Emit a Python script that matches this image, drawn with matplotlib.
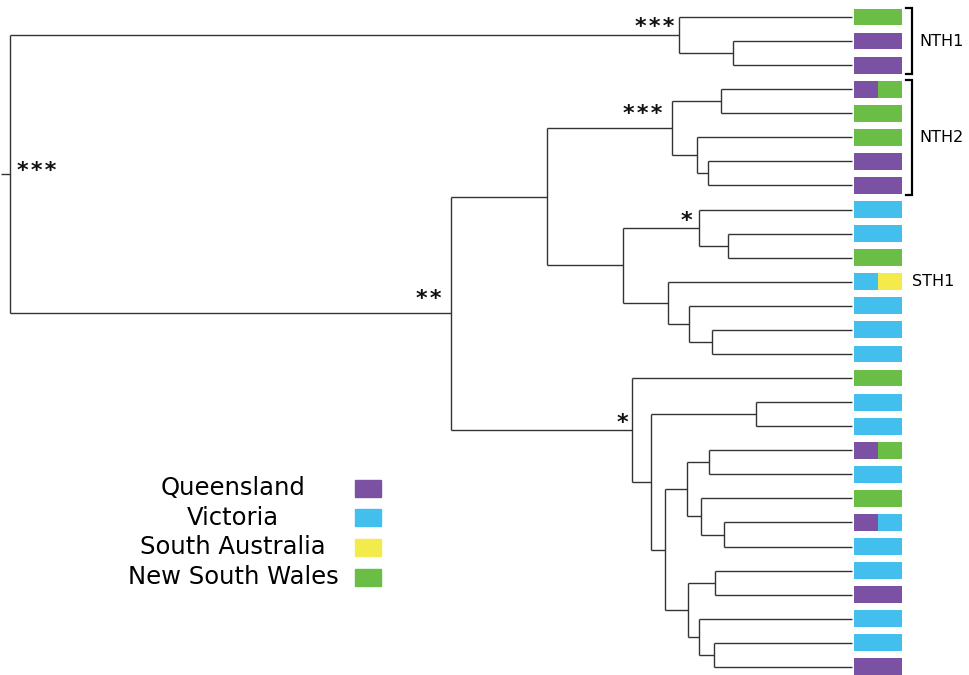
import matplotlib
matplotlib.use("Agg")
import matplotlib.pyplot as plt
from matplotlib.patches import Rectangle

# --- data -----------------------------------------------------------------
# tips in top-to-bottom order; "A+B" means a split bar
tip_regions = ["NSW", "QLD", "QLD", "QLD+NSW", "NSW", "NSW", "QLD", "QLD",
               "VIC", "VIC", "NSW", "VIC+SA", "VIC", "VIC", "VIC",
               "NSW", "VIC", "VIC", "QLD+NSW", "VIC", "NSW", "QLD+VIC",
               "VIC", "VIC", "QLD", "VIC", "VIC", "QLD"]
tip_parent = [1, 2, 2, 6, 6, 7, 8, 8, 10, 11, 11, 12, 13, 14, 14,
              15, 17, 17, 20, 20, 21, 22, 22, 24, 24, 25, 26, 26]

# internal nodes: relative depth (root = 0, tips = 1), parent, support
node_depth = [0.0, 0.795, 0.859, 0.524, 0.638, 0.786, 0.845, 0.816, 0.829,
              0.728, 0.818, 0.853, 0.781, 0.806, 0.834, 0.739, 0.761, 0.886,
              0.778, 0.804, 0.830, 0.821, 0.848, 0.805, 0.837, 0.818, 0.836]
node_parent = [-1, 0, 1, 0, 3, 4, 5, 5, 7, 4, 9, 10, 9, 12, 13, 3, 15, 16,
               16, 18, 19, 19, 21, 18, 23, 23, 25]
node_support = {0: "***", 1: "***", 3: "**", 5: "***", 10: "*", 15: "*"}

clade_names = ["NTH1", "NTH2"]
clade_first = [0, 3]
clade_last = [2, 7]
sth1_tip = 11

legend_labels = ["Queensland", "Victoria", "South Australia", "New South Wales"]
legend_keys = ["QLD", "VIC", "SA", "NSW"]

colors = {"QLD": "#7b52a3", "VIC": "#43bfee", "SA": "#f3eb4b", "NSW": "#6abd45"}

# --- layout ---------------------------------------------------------------
W, H = 969, 675
fig = plt.figure(figsize=(W / 100, H / 100), dpi=100)
ax = fig.add_axes([0, 0, 1, 1])
ax.axis("off")
# 1 depth unit = 842 px, root at px 10; tips 24.07 px apart starting at px 17
ax.set_xlim(-10 / 842, 959 / 842)
ax.set_ylim((H - 17) / 24.07, -17 / 24.07)

children = {i: [] for i in range(len(node_depth))}
for n, p in enumerate(node_parent):
    if p >= 0:
        children[p].append(("n", n))
for t, p in enumerate(tip_parent):
    children[p].append(("t", t))


def node_y(kind, idx):
    if kind == "t":
        return float(idx)
    ys = [node_y(k, i) for k, i in children[idx]]
    return (min(ys) + max(ys)) / 2


lc = "#333333"
lw = 1.0

ny = [node_y("n", n) for n in range(len(node_depth))]

for n, d in enumerate(node_depth):
    ys = [node_y(k, i) for k, i in children[n]]
    ax.plot([d, d], [min(ys), max(ys)], color=lc, lw=lw, solid_capstyle="butt")
    p = node_parent[n]
    x0 = node_depth[p] if p >= 0 else -0.011
    ax.plot([x0, d], [ny[n], ny[n]], color=lc, lw=lw, solid_capstyle="butt")

for t, p in enumerate(tip_parent):
    ax.plot([node_depth[p], 1.0], [t, t], color=lc, lw=lw, solid_capstyle="butt")

# coloured bars
bar_left, bar_w, bar_h = 1.0025, 0.057, 0.70
for t, reg in enumerate(tip_regions):
    parts = reg.split("+")
    w = bar_w / len(parts)
    for j, r in enumerate(parts):
        ax.barh(t, w, left=bar_left + j * w, height=bar_h, color=colors[r],
                edgecolor="none")

# support values (offsets in pixels from the node, + is up)
sup_off = {0: (7, 3, "left"), 1: (-5, 8, "right"), 3: (-10, 14, "right"),
           5: (-9, 14, "right"), 10: (-7, 7, "right"), 15: (-4, 7, "right")}
for n, s in node_support.items():
    dx, dy, ha = sup_off[n]
    ax.annotate("\u200a".join(s), (node_depth[n], ny[n]), xytext=(dx, dy),
                textcoords="offset pixels", ha=ha, va="center",
                fontsize=16, fontweight="bold", color="#111111")

# clade brackets
bx = 1.0713
for name, a, b in zip(clade_names, clade_first, clade_last):
    y0, y1 = a - 0.38, b + 0.38
    ax.plot([bx - 0.007, bx, bx, bx - 0.007], [y0, y0, y1, y1],
            color="black", lw=1.6, solid_joinstyle="miter")
    ax.text(bx + 0.009, (a + b) / 2, name, ha="left", va="center", fontsize=11.5)
ax.text(bx, sth1_tip, "STH1", ha="left", va="center", fontsize=11.5)

# legend
text_x = 233 / W
sw_x, sw_w, sw_h = 355 / W, 26 / W, 17 / H
for i, (lab, key) in enumerate(zip(legend_labels, legend_keys)):
    yc = 1 - (488 + i * 29.7) / H
    fig.text(text_x, yc, lab, ha="center", va="center", fontsize=17.5)
    fig.add_artist(Rectangle((sw_x, yc - sw_h / 2), sw_w, sw_h,
                             transform=fig.transFigure, color=colors[key]))

fig.savefig("out.png", dpi=100)
